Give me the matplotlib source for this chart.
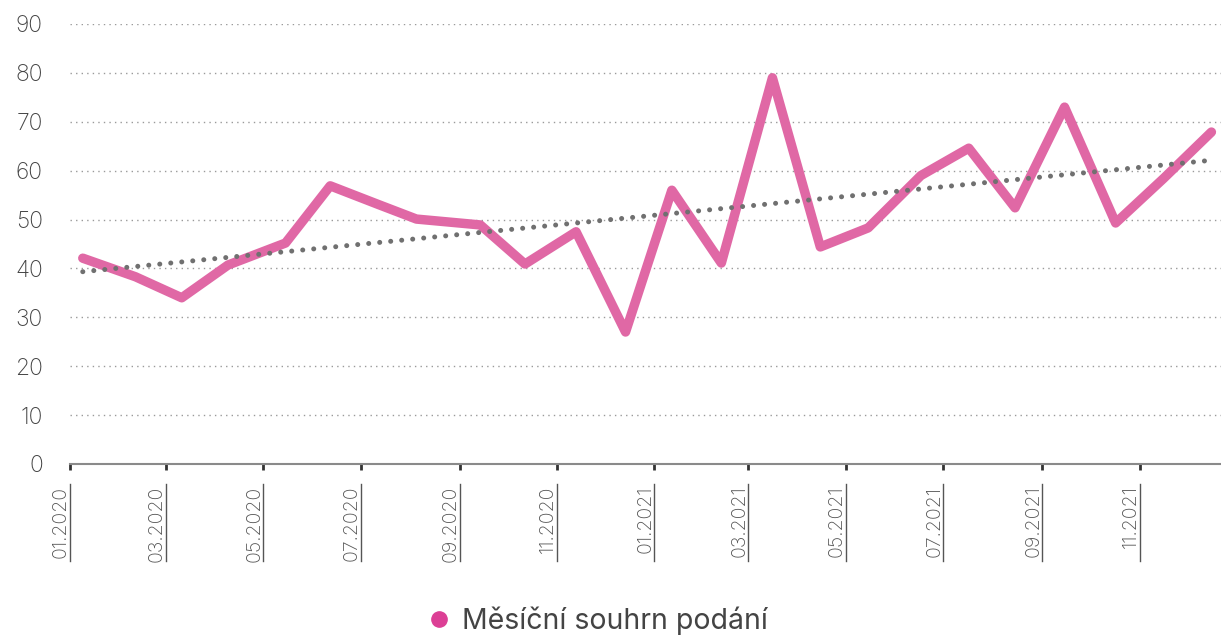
import matplotlib
matplotlib.use('Agg')
import matplotlib.pyplot as plt
import matplotlib.dates as mdates
import matplotlib.transforms as mtransforms
import numpy as np
import pandas as pd

# data (one value per month, dates as plotted)
dates = ['2020-01-09', '2020-02-11', '2020-03-11', '2020-04-09', '2020-05-15',
         '2020-06-12', '2020-07-12', '2020-08-05', '2020-09-14', '2020-10-12',
         '2020-11-13', '2020-12-14', '2021-01-12', '2021-02-12', '2021-03-16',
         '2021-04-15', '2021-05-15', '2021-06-17', '2021-07-17', '2021-08-15',
         '2021-09-15', '2021-10-17', '2021-11-16', '2021-12-16']
values = [42.1, 38.3, 34.0, 40.7, 45.2,
          56.9, 53.1, 50.1, 48.9, 40.9,
          47.5, 27.0, 56.0, 41.1, 79.0,
          44.4, 48.3, 59.0, 64.6, 52.4,
          73.0, 49.3, 58.4, 67.9]
series_label = 'Měsíční souhrn podání'
y_ticks = [0, 10, 20, 30, 40, 50, 60, 70, 80, 90]

plt.rcParams['font.family'] = ['Inter', 'DejaVu Sans']

x = pd.to_datetime(dates)
xn = mdates.date2num(x)
y = np.array(values)

# linear trend
k, q = np.polyfit(xn, y, 1)
trend = k * xn + q

fig = plt.figure(figsize=(12.21, 6.36), dpi=100)
ax = fig.add_axes([70 / 1221., 172 / 636., 1151 / 1221., 440 / 636.])

line_col = '#e068a5'
ax.plot(x, y, color=line_col, lw=6.8, solid_joinstyle='round',
        solid_capstyle='round', zorder=3)
ax.plot(x, trend, color='#707070', lw=3.6, linestyle=(0, (0.01, 2.2)),
        dash_capstyle='round', zorder=4)

# legend handle
ax.plot([], [], 'o', color='#dc3f95', ms=11, label=series_label)

ax.set_ylim(0, 90)
ax.set_yticks(y_ticks)
ax.set_xlim(mdates.date2num(pd.Timestamp('2020-01-01')),
            mdates.date2num(pd.Timestamp('2021-12-22')))

ax.yaxis.grid(True, color='#9a9a9a', linestyle=(0, (1, 3)), lw=1.0)
ax.set_axisbelow(True)
for s in ['top', 'right', 'left']:
    ax.spines[s].set_visible(False)
ax.spines['bottom'].set_color('#8a8a8a')
ax.spines['bottom'].set_linewidth(1.5)

ax.tick_params(axis='y', length=0, pad=19.5, labelsize=16.5, labelcolor='#444444')
ax.tick_params(axis='x', length=4, width=2, color='#333333', pad=11.5,
               labelsize=14, labelcolor='#555555')
for lab in ax.get_yticklabels():
    lab.set_fontweight('light')

ax.xaxis.set_major_locator(mdates.MonthLocator(bymonth=[1, 3, 5, 7, 9, 11]))
ax.xaxis.set_major_formatter(mdates.DateFormatter('%m.%Y'))
for lab in ax.get_xticklabels():
    lab.set_rotation(90)
    lab.set_ha('right')
    lab.set_va('bottom')
    lab.set_rotation_mode('anchor')
    lab.set_fontweight('light')

# underline beside each rotated label
trans = mtransforms.blended_transform_factory(ax.transData, ax.transAxes)
for t in ax.get_xticks():
    ax.plot([t, t], [-0.045, -0.221], color='#555555', lw=1.0,
            transform=trans, clip_on=False)

fig.legend(loc='center', bbox_to_anchor=(593 / 1221., 15 / 636.), frameon=False,
           fontsize=20.5, handletextpad=0.05, handlelength=1.5,
           labelcolor='#444444')

fig.savefig('out.png', dpi=100)
